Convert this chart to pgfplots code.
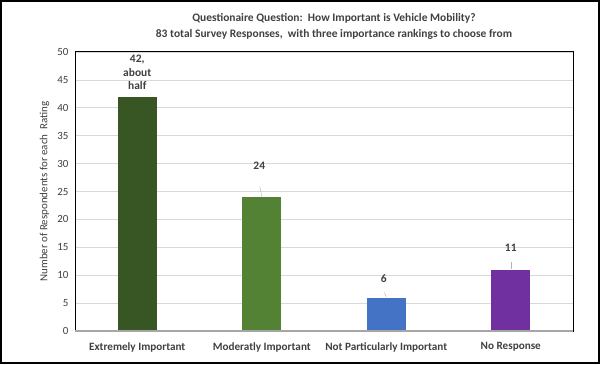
\documentclass[border=0pt]{standalone}
\usepackage{fontspec}
\setmainfont{Carlito}
\usepackage{pgfplots}
\pgfplotsset{compat=1.18}
\definecolor{cA}{HTML}{375623}
\definecolor{cB}{HTML}{548235}
\definecolor{cC}{HTML}{4472C4}
\definecolor{cD}{HTML}{7030A0}
\definecolor{txt}{HTML}{404040}
\begin{document}
\begin{tikzpicture}[x=1bp,y=1bp]
\useasboundingbox (0,0) rectangle (600,364);
\fill[white] (0,0) rectangle (600,364);
\draw[line width=2.4bp] (1.2,1.2) rectangle (598.8,362.8);
\begin{axis}[
  at={(75bp,33bp)}, anchor=south west,
  scale only axis, width=498bp, height=279bp,
  xmin=-0.5, xmax=3.5, ymin=0, ymax=50,
  ytick={0,5,...,50},
  xtick={0,1,2,3},
  xticklabels={Extremely Important, Moderatly Important, Not Particularly Important, No Response},
  xtick style={draw=none}, ytick style={draw=none},
  ymajorgrids, grid style={color=black!15, line width=0.6bp},
  axis line style={black, line width=1bp},
  /pgf/number format/assume math mode=true,
  tick label style={font=\fontsize{11}{13}\selectfont, color=txt},
  xticklabel style={font=\fontsize{11.2}{13}\selectfont\bfseries, color=txt, yshift=-3.5bp},
  yticklabel style={xshift=-3bp},
  ylabel={Number of Respondents for each\ \ Rating},
  ylabel style={font=\fontsize{11}{13}\selectfont, color=txt, at={(axis description cs:-0.061,0.5)}, anchor=center},
  title={Questionaire Question:\ \ How Important is Vehicle Mobility?\\83 total Survey Responses,\ \ with three importance rankings to choose from},
  title style={font=\fontsize{11.5}{16}\selectfont\bfseries, color=txt, align=center, at={(axis description cs:0.52,1)}, anchor=south, yshift=3bp},
  ybar, bar width=39bp,
]
\addplot[draw=none, fill=cA, bar shift=0pt] coordinates {(0,42)};
\addplot[draw=none, fill=cB, bar shift=0pt] coordinates {(1,24)};
\addplot[draw=none, fill=cC, bar shift=0pt] coordinates {(2,6)};
\addplot[draw=none, fill=cD, bar shift=0pt] coordinates {(3,11)};
\addplot[sharp plot, no marks, color=black!30, line width=0.4bp] coordinates {(0.985,25.9) (1.0,24.1)};
\addplot[sharp plot, no marks, color=black!30, line width=0.4bp] coordinates {(1.985,6.9) (2.0,6.1)};
\addplot[sharp plot, no marks, color=black!30, line width=0.4bp] coordinates {(3.0,12.3) (3.0,11.1)};
\draw[color=black!35, line width=1.2bp] (rel axis cs:0,0) -- (rel axis cs:1,0);
\begin{scope}[every node/.style={font=\fontsize{11.5}{13.5}\selectfont\bfseries, color=txt, align=center}]
\node at (axis cs:0,46.3) {42,\\about\\half};
\node at (axis cs:0.98,29.7) {24};
\node at (axis cs:1.98,9.3) {6};
\node at (axis cs:3.0,14.9) {11};
\end{scope}
\end{axis}
\end{tikzpicture}
\end{document}
